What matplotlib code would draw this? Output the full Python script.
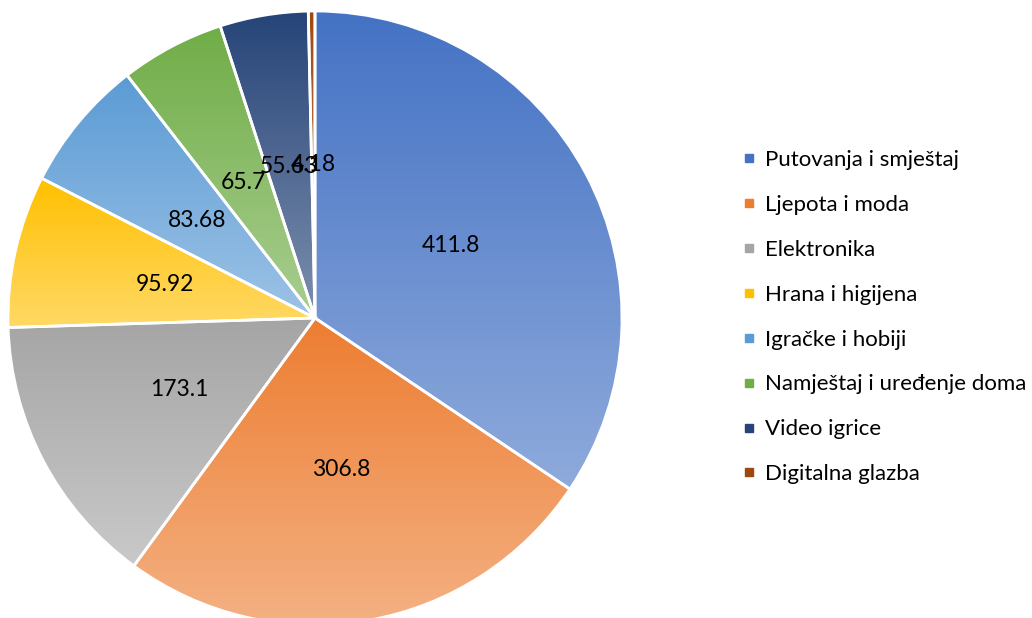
import numpy as np
import matplotlib
matplotlib.use("Agg")
import matplotlib.pyplot as plt
from matplotlib.colors import to_rgb
from matplotlib.lines import Line2D

categories = ["Putovanja i smještaj", "Ljepota i moda", "Elektronika", "Hrana i higijena",
              "Igračke i hobiji", "Namještaj i uređenje doma", "Video igrice", "Digitalna glazba"]
values = [411.8, 306.8, 173.1, 95.92, 83.68, 65.7, 55.63, 4.18]
value_labels = ["411.8", "306.8", "173.1", "95.92", "83.68", "65.7", "55.63", "4.18"]
colors = ["#4472C4", "#ED7D31", "#A5A5A5", "#FFC000", "#5B9BD5", "#70AD47", "#264478", "#9E480E"]

plt.rcParams['font.family'] = ['Lato', 'DejaVu Sans']

W, H = 1032, 618
fig = plt.figure(figsize=(W / 100, H / 100), dpi=100)
cx, cy, R = 315, 318, 307
ax = fig.add_axes([(cx - R) / W, (H - cy - R) / H, 2 * R / W, 2 * R / H])

wedges, _ = ax.pie(values, startangle=90, counterclock=False, radius=1,
                   wedgeprops=dict(edgecolor='white', linewidth=2.0, facecolor='none'))
ax.set_aspect('equal')
ax.axis('off')

for w, c in zip(wedges, colors):
    w.set_zorder(3)
    t1, t2 = np.deg2rad(w.theta1), np.deg2rad(w.theta2)
    th = np.linspace(t1, t2, 200)
    xs = np.concatenate([[0], np.cos(th)])
    ys = np.concatenate([[0], np.sin(th)])
    x0, x1, y0, y1 = xs.min(), xs.max(), ys.min(), ys.max()
    base = np.array(to_rgb(c))
    light = base + 0.4 * (1 - base)
    n = 256
    f = np.linspace(0, 1, n)[:, None]  # 0 top -> 1 bottom
    grad = base[None, :] * (1 - f) + light[None, :] * f
    img = np.repeat(grad[:, None, :], 2, axis=1)
    im = ax.imshow(img, extent=(x0, x1, y0, y1), origin='upper', aspect='auto',
                   interpolation='bilinear', zorder=2)
    im.set_clip_path(w)

ax.set_xlim(-1, 1)
ax.set_ylim(-1, 1)

for w, lab in zip(wedges, value_labels):
    mid = np.deg2rad((w.theta1 + w.theta2) / 2)
    ax.text(0.5 * np.cos(mid), 0.5 * np.sin(mid), lab, ha='center', va='center',
            fontsize=16.5, color='black', zorder=5)

handles = [Line2D([], [], marker='s', linestyle='none', markersize=5.5, color=c) for c in colors]
fig.legend(handles, categories, loc='upper left', bbox_to_anchor=(741 / W, 1 - 150 / H),
           frameon=False, fontsize=16, handlelength=0.7, handletextpad=0.4,
           labelspacing=1.12, borderpad=0, borderaxespad=0)

fig.savefig("out.png", dpi=100)
